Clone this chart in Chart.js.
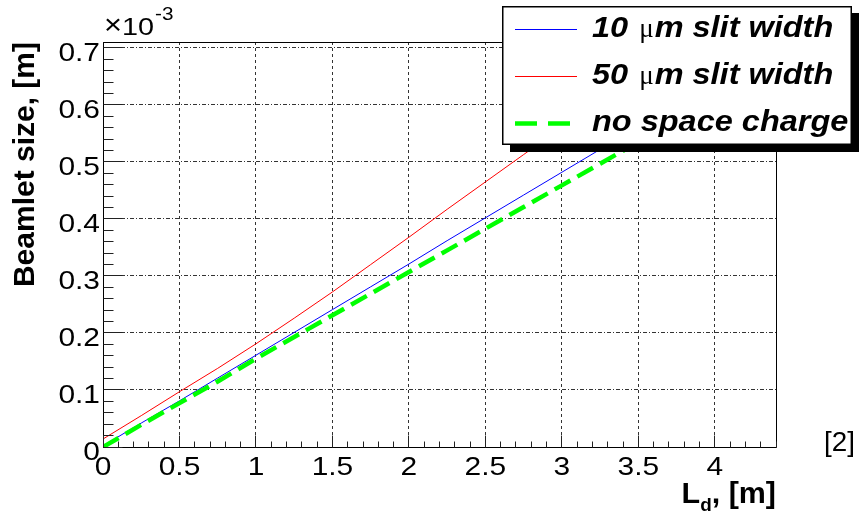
<!DOCTYPE html>
<html><head><meta charset="utf-8">
<script src="https://cdn.jsdelivr.net/npm/chart.js@4/dist/chart.umd.min.js"></script>
<style>html,body{margin:0;padding:0;background:#fff;}canvas{display:block;}</style>
</head><body>
<canvas id="c" width="859" height="515"></canvas>
<script>
// Drift length L_d [m]
const ldValues = [0, 0.25, 0.5, 0.75, 1, 1.25, 1.5, 1.75, 2, 2.25, 2.5, 2.75, 3, 3.25, 3.5, 3.75, 4, 4.25, 4.4];
// Beamlet size in units of 1e-3 m
const slit10um = [0.002, 0.042, 0.081, 0.121, 0.161, 0.201, 0.241, 0.281, 0.321, 0.362, 0.402, 0.442, 0.482, 0.522, 0.563, 0.603, 0.643, 0.684, 0.708];
const slit50um = [0.014, 0.055, 0.097, 0.138, 0.181, 0.226, 0.272, 0.320, 0.368, 0.417, 0.465, 0.513, 0.561, 0.609, 0.657, 0.705, 0.753, 0.800, 0.830];
const noSpaceCharge = [0, 0.039, 0.077, 0.115, 0.155, 0.193, 0.231, 0.269, 0.307, 0.345, 0.383, 0.421, 0.459, 0.497, 0.535, 0.573, 0.611, 0.649, 0.672];
const seriesLabels = ['10 μm slit width', '50 μm slit width', 'no space charge'];
const xTickLabels = ['0', '0.5', '1', '1.5', '2', '2.5', '3', '3.5', '4'];
const yTickLabels = ['0', '0.1', '0.2', '0.3', '0.4', '0.5', '0.6', '0.7'];
const xTitleMain = 'L';
const xTitleSub = 'd';
const xTitleRest = ', [m]';
const yTitle = 'Beamlet size, [m]';
const yExponent = '-3';
const sideNote = '[2]';

const FAM = "'Liberation Sans', Arial, Helvetica, sans-serif";
const pts = arr => arr.map((v, i) => ({x: ldValues[i], y: v}));

function stretchedText(ctx, str, x, y, font, sx, align) {
  ctx.save();
  ctx.font = font;
  const w = ctx.measureText(str).width * sx;
  let x0 = x;
  if (align === 'right') x0 = x - w;
  else if (align === 'center') x0 = x - w / 2;
  ctx.translate(x0, y);
  ctx.scale(sx, 1);
  ctx.textAlign = 'left';
  ctx.textBaseline = 'alphabetic';
  ctx.fillText(str, 0, 0);
  ctx.restore();
  return w;
}
function textW(ctx, str, font, sx) { ctx.save(); ctx.font = font; const w = ctx.measureText(str).width * sx; ctx.restore(); return w; }

const decor = {
  id: 'decor',
  afterDraw(chart) {
    const {ctx, chartArea: a, scales: {x, y}} = chart;
    const al = p => Math.round(p - 0.5) + 0.5;
    ctx.save();
    ctx.fillStyle = '#000';
    ctx.strokeStyle = '#000';
    ctx.lineWidth = 1;
    ctx.setLineDash([]);
    // frame
    ctx.beginPath();
    const L = al(a.left), R = al(a.right), T = al(a.top), B = al(a.bottom);
    ctx.moveTo(L, T); ctx.lineTo(R, T); ctx.lineTo(R, B); ctx.lineTo(L, B); ctx.closePath();
    ctx.stroke();
    // inward ticks
    ctx.strokeStyle = '#222';
    ctx.beginPath();
    for (let i = 0; i <= 44; i++) {
      const px = al(x.getPixelForValue(i / 10));
      const len = i % 5 === 0 ? 12 : 6;
      ctx.moveTo(px, B); ctx.lineTo(px, B - len);
    }
    for (let i = 0; i <= 35; i++) {
      const py = al(y.getPixelForValue(i * 0.02));
      const len = i % 5 === 0 ? 19 : 10;
      ctx.moveTo(L, py); ctx.lineTo(L + len, py);
    }
    ctx.stroke();
    // tick labels from the scales
    const fTick = `26px ${FAM}`;
    ctx.fillStyle = '#000';
    x.ticks.forEach(t => {
      stretchedText(ctx, xTickLabels[Math.round(t.value * 2)], x.getPixelForValue(t.value), 475, fTick, 1.15, 'center');
    });
    y.ticks.forEach(t => {
      stretchedText(ctx, yTickLabels[Math.round(t.value * 10)], 100, y.getPixelForValue(t.value) + 13, fTick, 1.15, 'right');
    });
    // exponent label
    const wx = stretchedText(ctx, '×', a.left + 1, 34, `28px ${FAM}`, 1.1, 'left');
    const w1 = stretchedText(ctx, '10', a.left + 1 + wx, 35, `24px ${FAM}`, 1.2, 'left');
    stretchedText(ctx, yExponent, a.left + 2 + wx + w1, 20, `18px ${FAM}`, 1.15, 'left');
    // x title with subscript
    const fMain = `bold 29px ${FAM}`, fSub = `bold 18px ${FAM}`;
    const sx = 1.05;
    const wL = textW(ctx, xTitleMain, fMain, sx), wd = textW(ctx, xTitleSub, fSub, sx), wr = textW(ctx, xTitleRest, fMain, sx);
    let tx = a.right - (wL + wd + wr);
    stretchedText(ctx, xTitleMain, tx, 503, fMain, sx, 'left'); tx += wL;
    stretchedText(ctx, xTitleSub, tx, 511, fSub, sx, 'left'); tx += wd;
    stretchedText(ctx, xTitleRest, tx, 503, fMain, sx, 'left');
    // side note
    stretchedText(ctx, sideNote, 824, 451, `27px ${FAM}`, 1.03, 'left');
    // legend
    const bx = 502, by = 6, bw = 350, bh = 139;
    ctx.fillStyle = '#000';
    ctx.fillRect(bx + 8, by + 7, bw, bh);
    ctx.fillStyle = '#fff';
    ctx.fillRect(bx, by, bw, bh);
    ctx.strokeStyle = '#000';
    ctx.lineWidth = 1.5;
    ctx.strokeRect(bx + 0.75, by + 0.75, bw - 1.5, bh - 1.5);
    const rowsY = [29.5, 76.5, 123.5];
    const baseY = [37, 84, 131];
    const fBI = `italic bold 29px ${FAM}`, fMu = `27px 'Liberation Serif', serif`;
    chart.data.datasets.forEach((ds, i) => {
      ctx.save();
      ctx.strokeStyle = ds.borderColor;
      ctx.lineWidth = ds.borderWidth;
      ctx.setLineDash(ds.borderDash ? [22, 11] : []);
      ctx.beginPath();
      ctx.moveTo(515, rowsY[i]); ctx.lineTo(577, rowsY[i]);
      ctx.stroke();
      ctx.restore();
      ctx.fillStyle = '#000';
      const parts = ds.label.split('μ');
      let lx = 592;
      lx += stretchedText(ctx, parts[0], lx, baseY[i], fBI, 1.12, 'left');
      if (parts.length > 1) {
        lx += 2;
        lx += stretchedText(ctx, 'μ', lx, baseY[i], fMu, 1.0, 'left');
        lx += 1;
        stretchedText(ctx, parts[1], lx, baseY[i], fBI, 1.12, 'left');
      }
    });
    ctx.restore();
  }
};

new Chart(document.getElementById('c'), {
  type: 'line',
  data: {
    datasets: [
      {label: seriesLabels[0], data: pts(slit10um), borderColor: '#0000ff', borderWidth: 1, pointRadius: 0, order: 1},
      {label: seriesLabels[1], data: pts(slit50um), borderColor: '#ff0000', borderWidth: 1, pointRadius: 0, order: 2},
      {label: seriesLabels[2], data: pts(noSpaceCharge), borderColor: '#00ff00', borderWidth: 4.5, borderDash: [18, 8], pointRadius: 0, order: 0}
    ]
  },
  options: {
    responsive: false,
    animation: false,
    devicePixelRatio: 1,
    layout: {padding: {left: 0, top: 42, right: 83, bottom: 0}},
    plugins: {legend: {display: false}, tooltip: {enabled: false}},
    scales: {
      x: {
        type: 'linear', min: 0, max: 4.4,
        afterFit(s) { s.height = 68; },
        ticks: {display: false, stepSize: 0.5, includeBounds: false, maxRotation: 0, autoSkip: false},
        grid: {color: '#333', lineWidth: 1, drawTicks: false},
        border: {display: false, dash: [3, 3]}
      },
      y: {
        type: 'linear', min: 0, max: 0.7105,
        afterFit(s) { s.width = 103; },
        ticks: {display: false, stepSize: 0.1, includeBounds: false},
        grid: {color: '#333', lineWidth: 1, drawTicks: false},
        border: {display: false, dash: [4, 2, 1, 2]},
        title: {display: true, text: yTitle, align: 'end', color: '#000', padding: {top: 8, bottom: 0},
          font: {family: FAM, size: 30, weight: 'bold'}}
      }
    }
  },
  plugins: [decor]
});
</script>
</body></html>
